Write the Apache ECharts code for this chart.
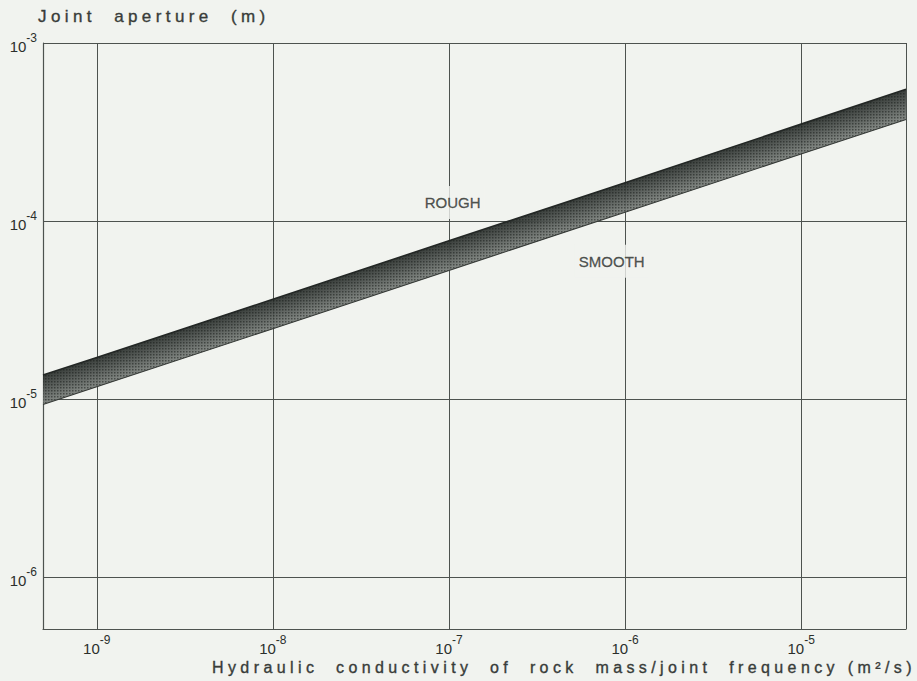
<!DOCTYPE html>
<html>
<head>
<meta charset="utf-8">
<script src="https://cdn.jsdelivr.net/npm/echarts@6/dist/echarts.min.js"></script>
<style>
  html, body { margin: 0; padding: 0; background: #f1f3ef; }
  #chart { width: 917px; height: 681px; }
</style>
</head>
<body>
<div id="chart"></div>
<script>
// Hydraulic conductivity / joint frequency (m²/s) at which the band edges are read
const conductivity = [4.95e-10, 1e-9, 1e-8, 1e-7, 1e-6, 1e-5, 3.94e-5];
// Upper edge of the band: rough joints, aperture in m
const roughAperture = [1.36e-5, 1.71e-5, 3.63e-5, 7.73e-5, 1.64e-4, 3.50e-4, 5.50e-4];
// Lower edge of the band: smooth joints, aperture in m
const smoothAperture = [9.3e-6, 1.17e-5, 2.48e-5, 5.27e-5, 1.12e-4, 2.38e-4, 3.72e-4];
// Decades that carry a tick label
const xTickExponents = [-9, -8, -7, -6, -5];
const yTickExponents = [-6, -5, -4, -3];
// Curve names and where they sit
const curveLabels = [
  { name: 'ROUGH', value: [1.05e-7, 1.27e-4] },
  { name: 'SMOOTH', value: [8.4e-7, 5.93e-5] }
];
const xTitle = 'Hydraulic\u00a0 conductivity\u00a0 of\u00a0 rock\u00a0 mass/joint\u00a0 frequency (m²/s)';
const yTitle = 'Joint\u00a0 aperture\u00a0 (m)';

const PAPER = '#f1f3ef';
const INK = '#2b2f2c';
const TITLE_INK = '#383c39';
const GRID = '#4d524f';
const FONT = '"Liberation Sans", Arial, Helvetica, sans-serif';

function powerLabel(exponents) {
  return function (v) {
    const lg = Math.log10(v);
    const e = Math.round(lg);
    if (Math.abs(lg - e) > 1e-6 || exponents.indexOf(e) < 0) return '';
    return '{b|10}{s|' + e + '}';
  };
}
const powerRich = {
  b: { fontSize: 15, lineHeight: 22, verticalAlign: 'bottom', color: INK, fontFamily: FONT },
  s: { fontSize: 12, lineHeight: 22, verticalAlign: 'top', color: INK, fontFamily: FONT }
};

// Small dot screen laid over the band
const screen = document.createElement('canvas');
screen.width = 3; screen.height = 3;
(function () {
  const c = screen.getContext('2d');
  c.fillStyle = 'rgba(20,24,22,0.5)';
  c.fillRect(0, 0, 1.5, 1.5);
})();

const chart = echarts.init(document.getElementById('chart'), null, { renderer: 'svg' });

const titleStyle = function (size) {
  return {
    fontFamily: FONT, fontSize: size, fontWeight: 'normal', color: TITLE_INK,
    textBorderColor: TITLE_INK, textBorderWidth: 0.35
  };
};

const option = {
  backgroundColor: PAPER,
  animation: false,
  title: [
    { text: yTitle, left: 38, top: 8, padding: 0, textStyle: titleStyle(17) },
    { text: xTitle, left: 212, top: 659, padding: 0, textStyle: titleStyle(16) }
  ],
  grid: { left: 43, right: 11, top: 43, bottom: 52 },
  xAxis: {
    type: 'log',
    logBase: 10,
    min: conductivity[0],
    max: conductivity[conductivity.length - 1],
    axisLine: { show: true, lineStyle: { color: GRID, width: 1.2 } },
    axisTick: { show: false },
    splitLine: { show: true, lineStyle: { color: GRID, width: 1 } },
    axisLabel: { formatter: powerLabel(xTickExponents), rich: powerRich, margin: 5 }
  },
  yAxis: {
    type: 'log',
    logBase: 10,
    min: 5.09e-7,
    max: 1e-3,
    axisLine: { show: true, lineStyle: { color: GRID, width: 1.2 } },
    axisTick: { show: false },
    splitLine: { show: true, lineStyle: { color: GRID, width: 1 } },
    axisLabel: { formatter: powerLabel(yTickExponents), rich: powerRich, margin: 6 }
  },
  series: [
    {
      type: 'custom',
      coordinateSystem: 'cartesian2d',
      clip: false,
      data: [[conductivity[0], roughAperture[0]]],
      encode: { x: 0, y: 1 },
      renderItem: function (params, api) {
        const up = conductivity.map((k, i) => api.coord([k, roughAperture[i]]));
        const lo = conductivity.map((k, i) => api.coord([k, smoothAperture[i]]));
        const m = Math.floor(up.length / 2);
        const dx = up[up.length - 1][0] - up[0][0];
        const dy = up[up.length - 1][1] - up[0][1];
        const len = Math.hypot(dx, dy);
        const nx = -dy / len, ny = dx / len;
        const t = (lo[m][0] - up[m][0]) * nx + (lo[m][1] - up[m][1]) * ny;
        const shade = new echarts.graphic.LinearGradient(
          up[m][0], up[m][1], up[m][0] + nx * t, up[m][1] + ny * t,
          [
            { offset: 0, color: '#2c312e' },
            { offset: 0.4, color: '#4c514e' },
            { offset: 1, color: '#7c817d' }
          ], true);
        const outline = up.concat(lo.slice().reverse());
        return {
          type: 'group',
          children: [
            { type: 'polygon', shape: { points: outline }, style: { fill: shade, opacity: 0.93 } },
            { type: 'polygon', shape: { points: outline }, style: { fill: { image: screen, repeat: 'repeat' } } },
            { type: 'polyline', shape: { points: up }, style: { stroke: '#232725', lineWidth: 1.6, fill: null } },
            { type: 'polyline', shape: { points: lo }, style: { stroke: '#363a37', lineWidth: 1.1, fill: null } }
          ]
        };
      }
    },
    {
      type: 'scatter',
      symbolSize: 0,
      data: curveLabels,
      label: {
        show: true,
        position: 'inside',
        formatter: '{b}',
        fontFamily: FONT,
        fontSize: 15,
        color: INK,
        textBorderColor: INK,
        textBorderWidth: 0.3,
        backgroundColor: PAPER,
        padding: [10, 4, 8, 4]
      }
    }
  ]
};

chart.setOption(option);

// Open up the lettering of the two axis titles
function spaceTitles() {
  document.querySelectorAll('#chart svg text').forEach(function (t) {
    const s = t.textContent || '';
    if (s.indexOf('Joint') === 0) { t.style.letterSpacing = '4.4px'; t.style.whiteSpace = 'pre'; }
    if (s.indexOf('Hydraulic') === 0) { t.style.letterSpacing = '4.4px'; t.style.whiteSpace = 'pre'; }
  });
}
chart.on('finished', spaceTitles);
setTimeout(spaceTitles, 50);
setTimeout(spaceTitles, 300);
</script>
</body>
</html>
